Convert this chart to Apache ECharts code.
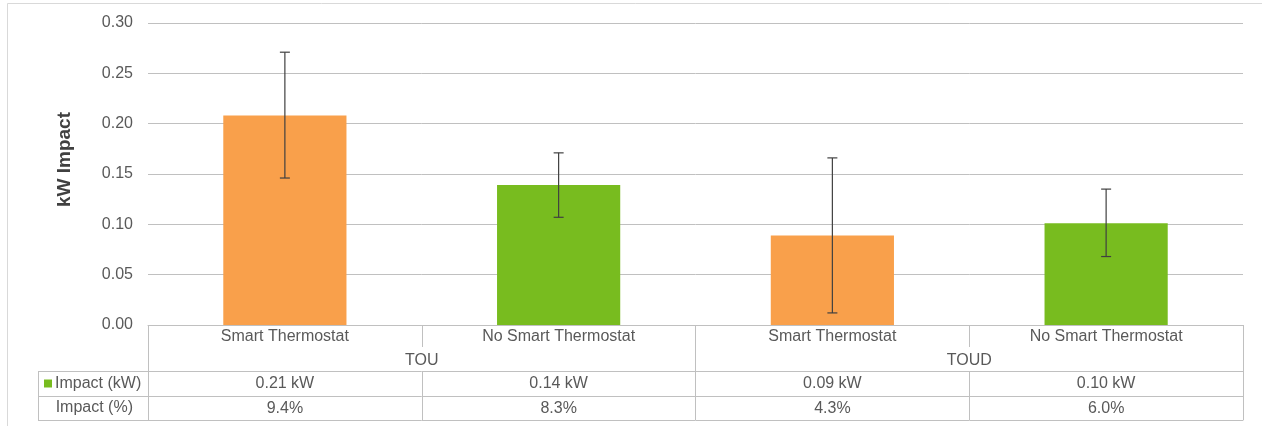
<!DOCTYPE html>
<html>
<head>
<meta charset="utf-8">
<script src="https://cdn.jsdelivr.net/npm/echarts@6/dist/echarts.min.js"></script>
<style>
  html, body { margin: 0; padding: 0; background: #ffffff; }
  #chart { width: 1262px; height: 426px; }
</style>
</head>
<body>
<div id="chart"></div>
<script>
// Peak demand impact by rate plan and thermostat group
const categories = ["Smart Thermostat", "No Smart Thermostat", "Smart Thermostat", "No Smart Thermostat"];
const groups = ["TOU", "TOUD"];
const impactKw = [0.208, 0.139, 0.089, 0.101];
const errLow = [0.146, 0.107, 0.012, 0.068];
const errHigh = [0.271, 0.171, 0.166, 0.135];
const impactPct = [9.4, 8.3, 4.3, 6.0];
const yMin = 0, yMax = 0.30, yStep = 0.05;
const rowLabels = ["Impact (kW)", "Impact (%)"];

const kwLabels = impactKw.map(v => v.toFixed(2) + " kW");
const pctLabels = impactPct.map(v => v.toFixed(1) + "%");

const ORANGE = "#f9a04b";
const GREEN = "#78bc1f";
const LINE = "#c0c0c0";
const TEXT = "#595959";
const FONT = "'Liberation Sans', Arial, sans-serif";

// layout of the plot and the data table under it
const GRID = { left: 148, right: 19, top: 23, bottom: 101 };
const TABLE_LEFT = 38;
const ROW_KW = 46;    // offset of the kW row border below the axis
const ROW_PCT = 71;   // offset of the % row border
const ROW_END = 95;   // offset of the table bottom

const chart = echarts.init(document.getElementById("chart"), null, { renderer: "canvas" });

const baseLabel = { color: TEXT, fontSize: 16, fontFamily: FONT };

function tableAxis(data, offset, opts) {
  return Object.assign({
    type: "category",
    gridIndex: 0,
    position: "bottom",
    offset: offset,
    data: data,
    axisLine: { show: true, lineStyle: { color: LINE, width: 1 } },
    axisTick: { show: false },
    axisLabel: Object.assign({ interval: 0, margin: 5 }, baseLabel),
    splitLine: { show: false }
  }, opts || {});
}

const option = {
  backgroundColor: "#ffffff",
  animation: false,
  grid: GRID,
  xAxis: [
    tableAxis(categories, 0, {
      axisTick: { show: true, length: 22, lineStyle: { color: LINE } },
      axisLabel: Object.assign({ interval: 0, margin: 4 }, baseLabel)
    }),
    tableAxis(groups, 0, {
      axisLine: { show: false },
      axisTick: { show: true, length: ROW_END, lineStyle: { color: LINE } },
      axisLabel: Object.assign({ interval: 0, margin: 28 }, baseLabel)
    }),
    tableAxis(kwLabels, ROW_KW, {
      axisTick: { show: true, length: ROW_END - ROW_KW, lineStyle: { color: LINE } }
    }),
    tableAxis(pctLabels, ROW_PCT),
    tableAxis(categories, ROW_END, { axisLabel: { show: false } })
  ],
  yAxis: {
    type: "value",
    min: yMin,
    max: yMax,
    interval: yStep,
    name: "kW Impact",
    nameLocation: "middle",
    nameGap: 74,
    nameTextStyle: { color: "#404040", fontSize: 19, fontWeight: "bold", fontFamily: FONT, padding: [0, 0, 0, 29] },
    axisLine: { show: false },
    axisTick: { show: false },
    axisLabel: Object.assign({ margin: 15, formatter: v => v.toFixed(2) }, baseLabel),
    splitLine: { show: true, lineStyle: { color: LINE, width: 1 } }
  },
  series: [
    {
      type: "bar",
      xAxisIndex: 0,
      data: impactKw,
      barWidth: "45%",
      itemStyle: { color: p => (p.dataIndex % 2 === 0 ? ORANGE : GREEN) },
      z: 2
    },
    {
      type: "custom",
      xAxisIndex: 0,
      data: categories.map((c, i) => [i, errLow[i], errHigh[i]]),
      encode: { x: 0, y: [1, 2] },
      z: 3,
      renderItem: function (params, api) {
        const x = api.value(0);
        const lo = api.coord([x, api.value(1)]);
        const hi = api.coord([x, api.value(2)]);
        const cap = 5;
        const style = { stroke: "#404040", lineWidth: 1.2 };
        return {
          type: "group",
          children: [
            { type: "line", shape: { x1: lo[0], y1: lo[1], x2: hi[0], y2: hi[1] }, style: style },
            { type: "line", shape: { x1: hi[0] - cap, y1: hi[1], x2: hi[0] + cap, y2: hi[1] }, style: style },
            { type: "line", shape: { x1: lo[0] - cap, y1: lo[1], x2: lo[0] + cap, y2: lo[1] }, style: style }
          ]
        };
      }
    }
  ]
};

chart.setOption(option);

// Row header column of the data table, placed from the grid edges
const axisY = 426 - GRID.bottom;
const yKw = axisY + ROW_KW;
const yPct = axisY + ROW_PCT;
const yEnd = axisY + ROW_END;
const lineStyle = { stroke: LINE, lineWidth: 1 };
chart.setOption({
  graphic: [
    { type: "rect", shape: { x: 7.5, y: 3.5, width: 1300, height: 500 }, style: { fill: null, stroke: "#d9d9d9", lineWidth: 1 }, silent: true },
    { type: "line", shape: { x1: TABLE_LEFT, y1: yKw + 0.5, x2: GRID.left, y2: yKw + 0.5 }, style: lineStyle },
    { type: "line", shape: { x1: TABLE_LEFT, y1: yPct + 0.5, x2: GRID.left, y2: yPct + 0.5 }, style: lineStyle },
    { type: "line", shape: { x1: TABLE_LEFT, y1: yEnd + 0.5, x2: GRID.left, y2: yEnd + 0.5 }, style: lineStyle },
    { type: "line", shape: { x1: TABLE_LEFT + 0.5, y1: yKw, x2: TABLE_LEFT + 0.5, y2: yEnd + 1 }, style: lineStyle },
    { type: "line", shape: { x1: GRID.left + 0.5, y1: yKw, x2: GRID.left + 0.5, y2: yEnd + 1 }, style: lineStyle },
    { type: "rect", shape: { x: 44, y: (yKw + yPct) / 2 - 4, width: 8, height: 8 }, style: { fill: GREEN } },
    { type: "text", x: 55, y: (yKw + yPct) / 2, style: { text: rowLabels[0], fill: TEXT, font: "16px " + FONT, textAlign: "left", textVerticalAlign: "middle" } },
    { type: "text", x: GRID.left - 15, y: (yPct + yEnd) / 2, style: { text: rowLabels[1], fill: TEXT, font: "16px " + FONT, textAlign: "right", textVerticalAlign: "middle" } }
  ]
});
</script>
</body>
</html>
